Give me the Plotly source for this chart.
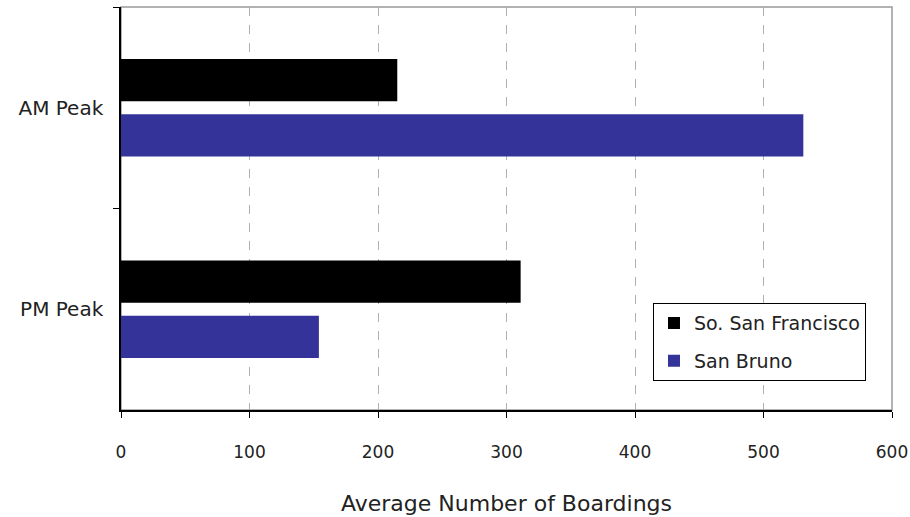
import plotly.graph_objects as go

categories = ["AM Peak", "PM Peak"]
series_names = ["So. San Francisco", "San Bruno"]
ssf_values = [215, 311]
sb_values = [531, 154]
x_ticks = [0, 100, 200, 300, 400, 500, 600]
colors = ["#000000", "#333399"]

FONT = "'DejaVu Sans', sans-serif"

fig = go.Figure()
for name, vals, col in zip(series_names, [ssf_values, sb_values], colors):
    fig.add_trace(go.Bar(
        y=categories, x=vals, name=name, orientation="h", legendgroup=name,
        marker=dict(color=col, line=dict(width=0)),
    ))

fig.update_layout(
    width=910, height=517,
    margin=dict(l=121, r=18, t=7, b=107, autoexpand=False),
    paper_bgcolor="white", plot_bgcolor="white",
    barmode="group", bargap=0.45, bargroupgap=0.236,
    font=dict(family=FONT, size=17, color="#222222"),
    showlegend=True,
    legend=dict(
        x=0.69, y=0.265, xanchor="left", yanchor="top",
        bordercolor="#000000", borderwidth=1, bgcolor="white",
        font=dict(size=19, color="#222222"),
        traceorder="grouped", itemsizing="constant",
        tracegroupgap=10,
    ),
    shapes=[dict(type="rect", xref="paper", yref="paper", x0=0, x1=1, y0=0, y1=1,
                 line=dict(color="#999999", width=1.5), layer="below")],
)

fig.update_xaxes(
    range=[0, 600], tickvals=x_ticks, ticktext=[str(v) for v in x_ticks],
    showgrid=True, gridcolor="#b0b0b0", griddash="dash", gridwidth=1,
    showline=True, linecolor="#000000", linewidth=1.5,
    ticks="outside", ticklen=6, tickcolor="#000000",
    ticklabelstandoff=20, zeroline=False, automargin=False,
    tickfont=dict(size=17),
    title=dict(text="Average Number of Boardings", font=dict(size=22), standoff=34),
)
fig.update_yaxes(
    autorange="reversed", tickson="boundaries", automargin=False,
    showline=True, linecolor="#000000", linewidth=1.5,
    ticks="outside", ticklen=6, tickcolor="#000000",
    showgrid=False, tickfont=dict(size=20), ticklabelstandoff=12,
)

fig.write_html("out.html")
